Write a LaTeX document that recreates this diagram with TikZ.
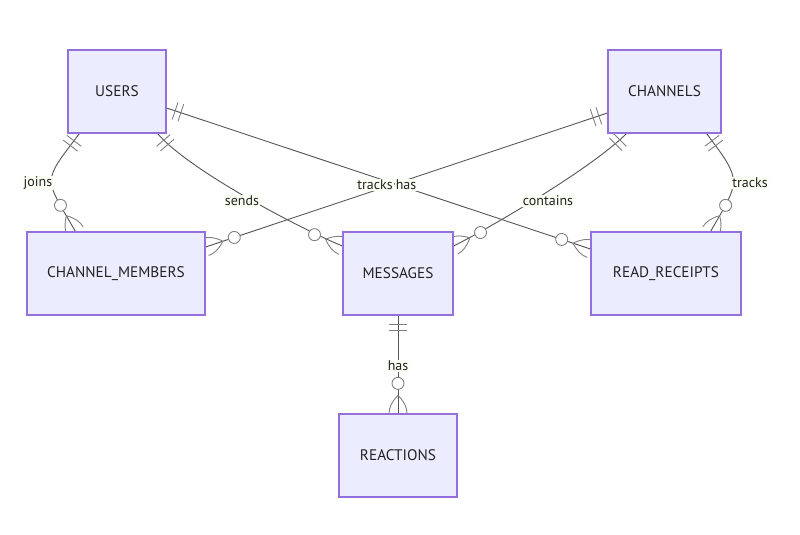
\documentclass[tikz,border=0pt]{standalone}
\usepackage{fontspec}
\setmainfont{PT Sans}
\usetikzlibrary{calc,decorations.markings,backgrounds}
\definecolor{boxfill}{HTML}{ECECFF}
\definecolor{boxdraw}{HTML}{9370DB}
\definecolor{edgecol}{HTML}{555555}
\definecolor{markcol}{HTML}{808080}
\definecolor{labelbg}{HTML}{FBFFF3}
\definecolor{txt}{HTML}{222222}
\tikzset{
  entity/.style={draw=boxdraw, fill=boxfill, line width=1.2pt, minimum height=83pt,
    inner sep=0pt, text=txt, font=\fontsize{15.3}{17}\selectfont},
  rlabel/.style={fill=labelbg, text=txt,
    inner sep=1pt, font=\fontsize{14}{16}\selectfont},
  rel/.style={draw=edgecol, line width=0.9pt,
    postaction={decorate, decoration={markings,
      mark=at position 0 with {
        \draw[markcol, line width=0.9pt] (9pt,-9pt)--(9pt,9pt) (15pt,-9pt)--(15pt,9pt);},
      mark=at position 0.9995 with {
        \draw[markcol, line width=0.9pt, fill=white] (-30pt,0pt) circle (6pt);
        \draw[markcol, line width=0.9pt] (-18pt,0pt) .. controls (-12pt,6pt) and (-6pt,9pt) .. (0pt,9pt);
        \draw[markcol, line width=0.9pt] (-18pt,0pt) .. controls (-12pt,-6pt) and (-6pt,-9pt) .. (0pt,-9pt);}
    }}}
}
\begin{document}
\begin{tikzpicture}[x=1pt,y=-1pt]
\useasboundingbox (0,0) rectangle (800,535);
% entities
\node[entity, minimum width=98pt]  (users)     at (117,91.5)  {USERS};
\node[entity, minimum width=113pt] (channels)  at (664.5,91.5) {CHANNELS};
\node[entity, minimum width=178pt] (members)   at (116,273.5) {CHANNEL\_MEMBERS};
\node[entity, minimum width=110pt] (messages)  at (398,273.5) {MESSAGES};
\node[entity, minimum width=150pt] (receipts)  at (666,273.5) {READ\_RECEIPTS};
\node[entity, minimum width=118pt] (reactions) at (398,455.5) {REACTIONS};
\begin{pgfonlayer}{background}
\fill[white] (0,0) rectangle (800,535);
% joins
\draw[rel] ($(users.south west)+(12,0)$) .. controls +(-38,50) and +(-31.5,-55) .. ($(members.north west)+(49,0)$);
% sends
\draw[rel] ($(users.south east)+(-9,0)$) .. controls +(32.5,38) and +(-37,-15) .. ($(messages.west)+(0,-27.5)$);
% tracks (users -> receipts)
\draw[rel] ($(users.east)+(0,16.5)$) -- ($(receipts.west)+(0,-24.5)$);
% has (channels -> members)
\draw[rel] ($(channels.west)+(0,21.5)$) -- ($(members.east)+(0,-26.5)$);
% contains
\draw[rel] ($(channels.south west)+(19,0)$) .. controls +(-35,35) and +(36,-18) .. ($(messages.east)+(0,-27.5)$);
% tracks (channels -> receipts)
\draw[rel] ($(channels.south east)+(-15,0)$) .. controls +(36,48) and +(30,-52) .. ($(receipts.north east)+(-31,0)$);
% has (messages -> reactions)
\draw[rel] (messages.south) -- (reactions.north);
\end{pgfonlayer}
% labels
\node[rlabel] (ljoins)    at (38,183)  {joins};
\node[rlabel] (lsends)    at (242,201) {sends};
\node[rlabel] (ltracks)   at (375,185) {tracks};
\node[rlabel] (lhas)      at (406,185) {has};
\node[rlabel] (lcontains) at (548,201) {contains};
\node[rlabel] (ltracks2)  at (750,183) {tracks};
\node[rlabel] (lhas2)     at (398,366) {has};
\end{tikzpicture}
\end{document}
